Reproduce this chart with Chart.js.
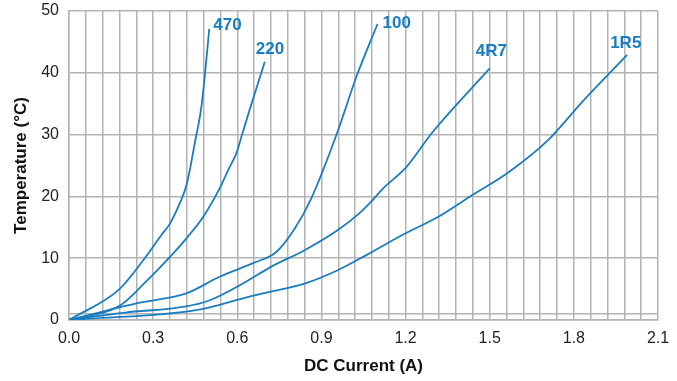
<!DOCTYPE html>
<html>
<head>
<meta charset="utf-8">
<script src="https://cdn.jsdelivr.net/npm/chart.js@4.4.1/dist/chart.umd.min.js"></script>
<style>
  html, body { margin: 0; padding: 0; background: #ffffff; }
  #wrap { width: 677px; height: 381px; position: relative; }
</style>
</head>
<body>
<div id="wrap"><canvas id="c" width="677" height="381"></canvas></div>
<script>
// Temperature rise vs DC current for each inductance value
const seriesNames = ['470', '220', '100', '4R7', '1R5'];

const current470 = [0, 0.18, 0.27, 0.33, 0.36, 0.395, 0.42, 0.45, 0.472, 0.485, 0.5];
const temp470    = [0, 5.0, 10.0, 13.8, 15.6, 18.9, 22.0, 29.0, 34.5, 39.9, 47.1];

const current220 = [0, 0.18, 0.27, 0.36, 0.424, 0.48, 0.537, 0.57, 0.597, 0.615, 0.644, 0.698];
const temp220    = [0, 2.3, 6.0, 10.2, 13.5, 16.8, 21.3, 24.5, 27.0, 29.7, 34.0, 41.8];

const current100 = [0, 0.24, 0.418, 0.537, 0.656, 0.739, 0.805, 0.864, 0.953, 1.025, 1.10];
const temp100    = [0, 2.7, 4.3, 7.0, 9.2, 11.0, 14.8, 19.7, 29.9, 39.4, 47.9];

const current4R7 = [0, 0.2, 0.418, 0.502, 0.62, 0.72, 0.84, 0.96, 1.036, 1.072, 1.12, 1.2, 1.298, 1.5];
const temp4R7    = [0, 1.2, 2.2, 3.2, 5.9, 8.6, 11.3, 14.6, 17.3, 18.9, 21.3, 24.6, 30.5, 40.7];

const current1R5 = [0, 0.418, 0.502, 0.62, 0.72, 0.84, 0.96, 1.06, 1.19, 1.32, 1.43, 1.57, 1.708, 1.83, 1.99];
const temp1R5    = [0, 1.35, 2.05, 3.5, 4.6, 5.9, 8.1, 10.5, 13.8, 16.8, 20.0, 24.0, 29.1, 35.3, 42.9];

// Axis ticks: labelled values and the finer grid spacing
const xTickLabels = ['0.0', '0.3', '0.6', '0.9', '1.2', '1.5', '1.8', '2.1'];
const xGridStep = 0.06;
const yTickLabels = ['0', '10', '20', '30', '40', '50'];
const yExtraGrid = [1];

const xs = [current470, current220, current100, current4R7, current1R5];
const ys = [temp470, temp220, temp100, temp4R7, temp1R5];

const lineColor = '#1a7dc0';
const gridColor = '#b3b3b6';

// label placement relative to each curve's end point (pixels)
const labelOffsets = [[4, -4], [-9, -12], [5, -1], [-14, -17], [-17, -12]];

const datasets = seriesNames.map((name, i) => ({
  label: name,
  data: xs[i].map((x, j) => ({ x: x, y: ys[i][j] })),
  borderColor: lineColor,
  borderWidth: 1.8,
  pointRadius: 0,
  cubicInterpolationMode: 'monotone',
  fill: false
}));

const endLabels = {
  id: 'endLabels',
  afterDatasetsDraw(chart) {
    const ctx = chart.ctx;
    ctx.save();
    ctx.font = 'bold 17px "Liberation Sans", Arial, sans-serif';
    ctx.fillStyle = lineColor;
    ctx.textAlign = 'left';
    ctx.textBaseline = 'middle';
    chart.data.datasets.forEach((ds, i) => {
      const meta = chart.getDatasetMeta(i);
      const last = meta.data[meta.data.length - 1];
      const off = labelOffsets[i];
      ctx.fillText(ds.label, last.x + off[0], last.y + off[1]);
    });
    ctx.restore();
  }
};

const tickFont = { family: '"Liberation Sans", Arial, sans-serif', size: 16 };
const titleFont = { family: '"Liberation Sans", Arial, sans-serif', size: 17, weight: 'bold' };

new Chart(document.getElementById('c'), {
  type: 'line',
  data: { datasets: datasets },
  options: {
    responsive: false,
    animation: false,
    events: [],
    layout: { padding: { left: 0, right: 19, top: 11, bottom: 0 } },
    plugins: { legend: { display: false }, tooltip: { enabled: false } },
    scales: {
      x: {
        type: 'linear',
        min: 0,
        max: 2.1,
        afterBuildTicks(scale) {
          const n = Math.round(2.1 / xGridStep);
          const t = [];
          for (let i = 0; i <= n; i++) t.push({ value: +(i * xGridStep).toFixed(2) });
          scale.ticks = t;
        },
        afterFit(scale) { scale.height = 61; scale.paddingLeft = 0; scale.paddingRight = 0; },
        ticks: {
          autoSkip: false,
          maxRotation: 0,
          padding: 9,
          color: '#222',
          font: tickFont,
          callback(v) {
            const s = Number(v).toFixed(1);
            const onMajor = Math.abs(v * 10 / 3 - Math.round(v * 10 / 3)) < 1e-6;
            return onMajor && xTickLabels.includes(s) ? s : '';
          }
        },
        grid: { color: gridColor, lineWidth: 1.5, drawTicks: false },
        border: { color: gridColor, width: 1.5 },
        title: { display: true, text: 'DC Current (A)', color: '#111', font: titleFont, padding: { top: 0, bottom: 4 } }
      },
      y: {
        type: 'linear',
        min: 0,
        max: 50,
        afterBuildTicks(scale) {
          const vals = yTickLabels.map(Number).concat(yExtraGrid).sort((a, b) => a - b);
          scale.ticks = vals.map(v => ({ value: v }));
        },
        afterFit(scale) { scale.width = 69; scale.paddingTop = 0; scale.paddingBottom = 0; },
        ticks: {
          padding: 10,
          color: '#222',
          font: tickFont,
          callback(v) { return yTickLabels.includes(String(v)) ? String(v) : ''; }
        },
        grid: { color: gridColor, lineWidth: 1.5, drawTicks: false },
        border: { color: gridColor, width: 1.5 },
        title: { display: true, text: 'Temperature (°C)', color: '#111', font: titleFont, padding: { top: 11, bottom: 0 } }
      }
    }
  },
  plugins: [endLabels]
});
</script>
</body>
</html>
